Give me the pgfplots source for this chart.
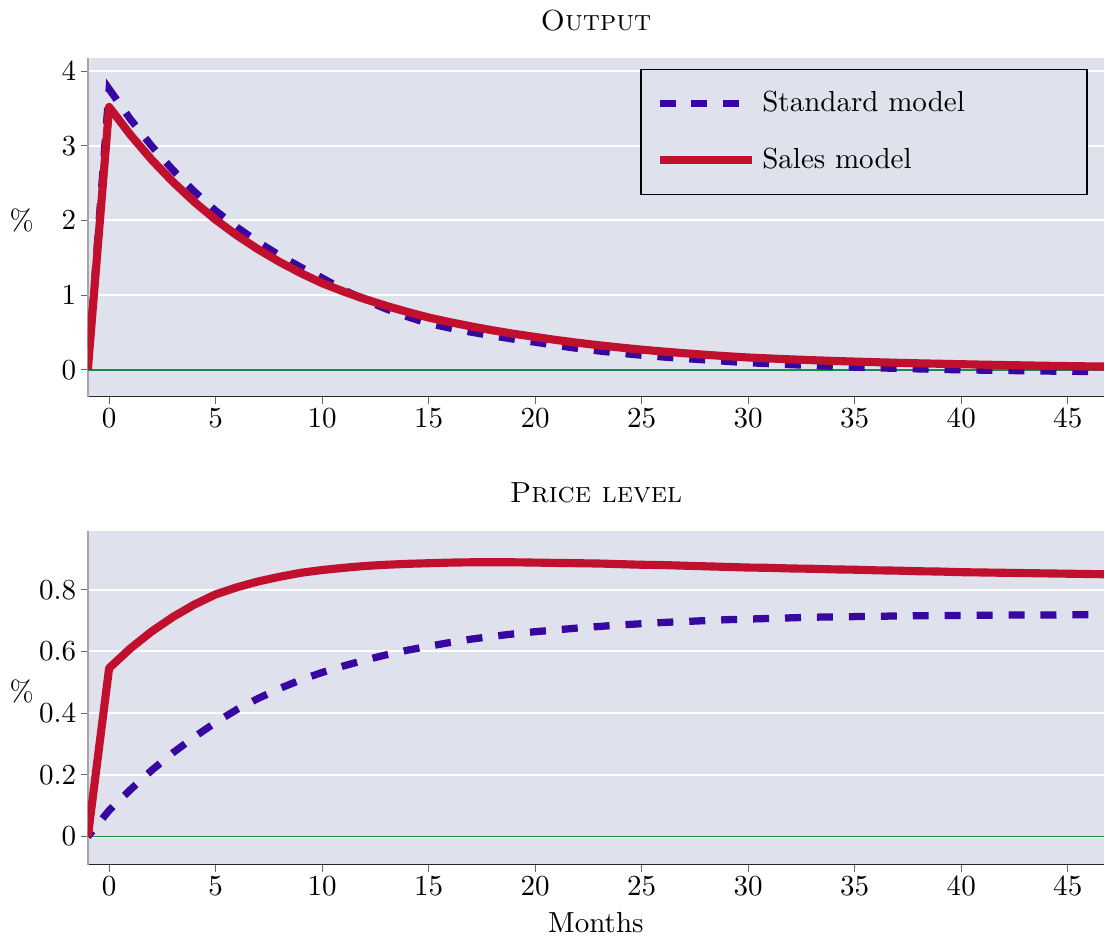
\documentclass[border=0pt]{standalone}
\usepackage{pgfplots}
\usepackage{pgfplotstable}
\pgfplotsset{compat=1.18}

\definecolor{panelbg}{RGB}{223,225,236}
\definecolor{stdblue}{RGB}{56,6,160}
\definecolor{salesred}{RGB}{192,16,46}
\definecolor{zerogreen}{RGB}{20,140,70}

% impulse responses, months -1..47
\pgfplotstableread{
t   std     sales
-1  0       0
0   3.76    3.52
1   3.356   3.147
2   2.996   2.813
3   2.674   2.515
4   2.387   2.249
5   2.13    2.01
6   1.909   1.80
7   1.710   1.613
8   1.532   1.445
9   1.373   1.295
10  1.23    1.16
11  1.073   1.049
12  0.935   0.948
13  0.816   0.857
14  0.711   0.775
15  0.62    0.70
16  0.559   0.638
17  0.504   0.581
18  0.455   0.529
19  0.410   0.482
20  0.37    0.44
21  0.326   0.399
22  0.286   0.362
23  0.252   0.328
24  0.222   0.298
25  0.195   0.27
26  0.172   0.245
27  0.151   0.222
28  0.132   0.201
29  0.113   0.182
30  0.095   0.165
31  0.082   0.152
32  0.069   0.140
33  0.057   0.129
34  0.046   0.119
35  0.035   0.11
36  0.027   0.102
37  0.019   0.094
38  0.012   0.087
39  0.005   0.081
40  0.0     0.075
41  -0.005  0.069
42  -0.009  0.064
43  -0.013  0.059
44  -0.017  0.054
45  -0.02   0.05
46  -0.022  0.046
47  -0.023  0.043
}\outputdata

\pgfplotstableread{
t   std     sales
-1  0       0
0   0.085   0.546
1   0.152   0.61
2   0.215   0.665
3   0.272   0.712
4   0.323   0.752
5   0.37    0.785
6   0.412   0.808
7   0.448   0.827
8   0.48    0.842
9   0.508   0.855
10  0.532   0.864
11  0.553   0.871
12  0.572   0.877
13  0.589   0.881
14  0.604   0.884
15  0.617   0.886
16  0.629   0.888
17  0.640   0.889
18  0.649   0.889
19  0.657   0.889
20  0.664   0.888
21  0.670   0.887
22  0.676   0.886
23  0.681   0.885
24  0.686   0.883
25  0.690   0.881
26  0.694   0.880
27  0.697   0.878
28  0.700   0.876
29  0.703   0.874
30  0.705   0.872
31  0.707   0.871
32  0.709   0.869
33  0.711   0.868
34  0.712   0.866
35  0.713   0.865
36  0.714   0.863
37  0.715   0.862
38  0.716   0.860
39  0.716   0.859
40  0.717   0.857
41  0.717   0.856
42  0.718   0.855
43  0.718   0.854
44  0.718   0.853
45  0.719   0.852
46  0.719   0.851
47  0.719   0.850
}\pricedata

\pgfplotsset{
  irf/.style={
    scale only axis, width=350pt,
    xmin=-1, xmax=46.7,
    xtick={0,5,...,45},
    axis background/.style={fill=panelbg},
    axis x line*=bottom, axis y line*=left,
    x axis line style={black!85, line width=0.55pt},
    y axis line style={black!35, line width=0.5pt},
    tick align=outside, major tick length=2.5pt,
    tick style={black!60, line width=0.4pt},
    xticklabel shift=-2pt, yticklabel shift=-2pt,
    ymajorgrids, grid style={white, line width=0.7pt},
    ylabel={\%},
    every axis y label/.style={at={(axis description cs:-0.065,0.52)}, anchor=center},
    title style={yshift=0pt},
  },
  stdline/.style={stdblue, line width=2.5pt, dash pattern=on 5.5pt off 5.5pt, dash phase=3pt},
  salesline/.style={salesred, line width=2.8pt, line join=round},
  zeroline/.style={zerogreen, line width=0.6pt, forget plot},
}

\begin{document}
\begin{tikzpicture}
\begin{axis}[
    irf,
    height=116.5pt,
    ymin=-0.36, ymax=4.17,
    ytick={0,1,2,3,4},
    title={\textsc{Output}},
    legend cell align=left,
    legend style={at={(axis description cs:0.984,0.97)}, anchor=north east,
        draw=black, line width=0.6pt, fill=panelbg, row sep=7pt,
        inner xsep=5pt, inner ysep=5.5pt},
    legend image code/.code={\draw[#1, dash phase=0pt] (0pt,0pt) -- (32pt,0pt);},
]
\addplot[zeroline] coordinates {(-1,0) (47,0)};
\addplot[stdline] table[x=t, y=std] {\outputdata};
\addlegendentry{Standard model\hspace*{35pt}}
\addplot[salesline] table[x=t, y=sales] {\outputdata};
\addlegendentry{Sales model}
\end{axis}

\begin{axis}[
    irf,
    at={(0pt,-46.2pt)}, anchor=north west,
    height=115pt,
    ymin=-0.091, ymax=0.991,
    ytick={0,0.2,0.4,0.6,0.8},
    yticklabels={0,0.2,0.4,0.6,0.8},
    title={\textsc{Price level}},
    xlabel={Months},
    xlabel style={yshift=1pt},
]
\addplot[zeroline] coordinates {(-1,0) (47,0)};
\addplot[stdline] table[x=t, y=std] {\pricedata};
\addplot[salesline] table[x=t, y=sales] {\pricedata};
\end{axis}
\end{tikzpicture}
\end{document}
